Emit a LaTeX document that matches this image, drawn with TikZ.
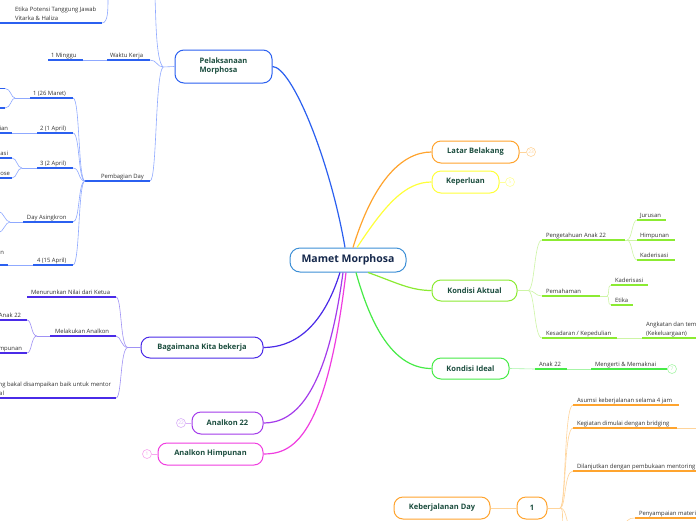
\documentclass[tikz,border=0pt]{standalone}
\usepackage{fontspec}
\setmainfont{Open Sans}
\definecolor{cblue}{HTML}{2B60F0}
\definecolor{cbluel}{HTML}{8FA9FF}
\definecolor{cind}{HTML}{4A2BE8}
\definecolor{cindl}{HTML}{A092F5}
\definecolor{cpur}{HTML}{A43BEB}
\definecolor{cpurl}{HTML}{D9B0F7}
\definecolor{cmag}{HTML}{F03CE0}
\definecolor{cmagl}{HTML}{F7A6EE}
\definecolor{corg}{HTML}{FFA42E}
\definecolor{corgl}{HTML}{FFD49A}
\definecolor{cyel}{HTML}{FFFF3A}
\definecolor{cyell}{HTML}{FFFF99}
\definecolor{cgrn}{HTML}{8BEB32}
\definecolor{cgrnl}{HTML}{CDF5A5}
\definecolor{cgrn2}{HTML}{46EB46}
\definecolor{cgrn2l}{HTML}{A6F5A6}
\definecolor{ccen}{HTML}{3D8FD6}
\definecolor{ttext}{HTML}{1B4D3E}
\definecolor{ctext}{HTML}{15284B}
\definecolor{ltext}{HTML}{333333}
\tikzset{
  topic/.style={draw=#1, rounded corners=9pt, line width=1pt, minimum height=22pt, inner sep=2pt,
    font=\bfseries\fontsize{7.5}{9}\selectfont, text=ttext, fill=white},
  lbl/.style={font=\fontsize{5.9}{7}\selectfont, text=ltext, anchor=south west, inner sep=0.8pt,
    text height=4.4pt, text depth=1.4pt},
  lble/.style={lbl, anchor=south east},
  ul/.style={line width=1.6pt, draw=#1},
  thin/.style={line width=0.6pt, draw=#1},
  mainline/.style={line width=1.2pt, draw=#1},
  badge/.style={circle, draw=#1, line width=0.6pt, inner sep=0pt, minimum size=9pt,
    font=\fontsize{4.8}{5}\selectfont, text=#1, fill=white},
}
\begin{document}
\begin{tikzpicture}[x=1pt,y=-1pt]
\useasboundingbox (0,0) rectangle (696,520);
\clip (0,0) rectangle (696,520);
\fill[white] (0,0) rectangle (696,520);

% ---------- main nodes ----------
\node[topic=ccen, text=ctext, minimum width=116pt, minimum height=24pt, rounded corners=10pt,
  font=\bfseries\fontsize{10.5}{12}\selectfont] (cen) at (348,260) {Mamet Morphosa};
\node[topic=cblue, minimum width=97pt, minimum height=33pt, align=left] (pel) at (223.5,66.5) {Pelaksanaan\\Morphosa};
\node[topic=cind, minimum width=122pt, minimum height=21pt] (bag) at (202,347.5) {Bagaimana Kita bekerja};
\node[topic=cpur, minimum width=71pt] (an22) at (227.5,423) {Analkon 22};
\node[topic=cmag, minimum width=105pt] (anh) at (210.5,454) {Analkon Himpunan};
\node[topic=corg, minimum width=87pt] (lat) at (475.5,152) {Latar Belakang};
\node[topic=cyel, minimum width=67pt] (kep) at (465.5,182) {Keperluan};
\node[topic=cgrn, minimum width=85pt, minimum height=21pt] (ka) at (474.5,290.5) {Kondisi Aktual};
\node[topic=cgrn2, minimum width=77pt, minimum height=21pt] (ki) at (470.5,368.5) {Kondisi Ideal};
\node[topic=corg, minimum width=96pt] (keb) at (442,508) {Keberjalanan Day};
\node[topic=corg, minimum width=30pt] (one) at (532,508) {1};

% ---------- connectors from center ----------
\draw[mainline=cblue] ([xshift=-3pt]cen.north) .. controls (330,160) and (292,67) .. (pel.east);
\draw[mainline=corg] ([xshift=5pt]cen.north) .. controls (372,185) and (400,152) .. (lat.west);
\draw[mainline=cyel] ([xshift=9pt]cen.north) .. controls (385,205) and (405,182) .. (kep.west);
\draw[mainline=cgrn] ([xshift=20pt]cen.south) .. controls (395,282) and (410,290.5) .. (ka.west);
\draw[mainline=cgrn2] ([xshift=8pt]cen.south) .. controls (372,330) and (395,368.5) .. (ki.west);
\draw[mainline=cind] ([xshift=-8pt]cen.south) .. controls (322,330) and (292,347.5) .. (bag.east);
\draw[mainline=cpur] ([xshift=-5pt]cen.south) .. controls (326,400) and (292,423) .. (an22.east);
\draw[mainline=cmag] ([xshift=-2pt]cen.south) .. controls (326,440) and (292,454) .. (anh.east);

% ---------- badges ----------
\node[badge=corgl] (blat) at (531,152) {23};
\draw[thin=corgl] (lat.east) -- (blat);
\node[badge=cyell] (bkep) at (510,182) {5};
\draw[thin=cyell] (kep.east) -- (bkep);
\node[badge=cpurl] (ban22) at (181,423) {22};
\draw[thin=cpurl] (an22.west) -- (ban22);
\node[badge=cmagl] (banh) at (147,454) {1};
\draw[thin=cmagl] (anh.west) -- (banh);

% ---------- Pelaksanaan subtree ----------
\coordinate (pb) at (163,67);
\draw[thin=cbluel] (pel.west) -- (pb);
\draw[thin=cbluel] (pb) .. controls (156,60) and (156,20) .. (155,-2);
\draw[thin=cbluel] (pb) .. controls (157,67) and (157,60) .. (150,60);
\draw[thin=cbluel] (pb) .. controls (155,75) and (157,181) .. (150,181);
% Etika
\draw[thin=cbluel] (102,23) .. controls (108,23) and (108,10) .. (108,-2);
\draw[ul=cblue] (0,23) -- (102,23);
\node[lbl] (etk1) at (14,14) {Etika Potensi Tanggung Jawab};
\node[lbl] (etk2) at (14,23) {Vitarka \& Haliza};
% Waktu kerja
\draw[ul=cblue] (107,60) -- (150,60);
\draw[thin=cbluel] (83,60) -- (107,60);
\draw[ul=cblue] (48,60) -- (83,60);
\node[lbl] (wk) at (109,60) {Waktu Kerja};
\node[lbl] (mg) at (50,60) {1 Minggu};
% Pembagian Day
\coordinate (pd) at (85,181);
\draw[ul=cblue] (85,181) -- (150,181);
\node[lbl] (pdl) at (100,181) {Pembagian Day};
\foreach \yy in {98,133,168,222,265}{
  \draw[thin=cbluel] (pd) .. controls (78,181) and (80,\yy) .. (73,\yy);
}
\draw[ul=cblue] (30,98) -- (73,98);
\node[lbl] (d1) at (32,98) {1 (26 Maret)};
\draw[ul=cblue] (37,133) -- (73,133);
\node[lbl] (d2) at (39,133) {2 (1 April)};
\draw[ul=cblue] (37,168) -- (73,168);
\node[lbl] (d3) at (39,168) {3 (2 April)};
\draw[ul=cblue] (23,222) -- (73,222);
\node[lbl] (da) at (26,222) {Day Asingkron};
\draw[ul=cblue] (33,265) -- (73,265);
\node[lbl] (d4) at (36,265) {4 (15 April)};
% grandchildren
\draw[thin=cbluel] (30,98) -- (15,98);
\draw[thin=cbluel] (15,98) .. controls (11,98) and (11,88.5) .. (5,88.5);
\draw[thin=cbluel] (15,98) .. controls (11,98) and (11,108) .. (5,108);
\draw[ul=cblue] (-2,88.5) -- (5,88.5);
\draw[ul=cblue] (-2,108) -- (5,108);
\draw[thin=cbluel] (37,133) -- (12,133);
\draw[ul=cblue] (-2,133) -- (12,133);
\node[lble] (g2) at (9,133) {ian};
\draw[thin=cbluel] (37,168) -- (22,168);
\draw[thin=cbluel] (22,168) .. controls (17,168) and (17,158) .. (12,158);
\draw[thin=cbluel] (22,168) .. controls (17,168) and (17,178) .. (12,178);
\draw[ul=cblue] (-2,158) -- (12,158);
\draw[ul=cblue] (-2,178) -- (12,178);
\node[lble] (g3a) at (9,158) {asi};
\node[lble] (g3b) at (11,178) {ose};
\draw[thin=cbluel] (23,222) -- (10,222);
\draw[thin=cbluel] (10,222) .. controls (5,222) and (4,212) .. (-2,211);
\draw[thin=cbluel] (10,222) .. controls (5,222) and (4,232) .. (-2,233);
\draw[thin=cbluel] (33,265) -- (8,265);
\draw[ul=cblue] (-2,265) -- (8,265);
\node[lble] (g4) at (5,257) {n};

% ---------- Bagaimana subtree ----------
\coordinate (bb) at (128,347.5);
\draw[thin=cindl] (bag.west) -- (bb);
\draw[thin=cindl] (bb) .. controls (120,347.5) and (122,297) .. (116,297);
\draw[thin=cindl] (bb) .. controls (121,347.5) and (121,336) .. (116,336);
\draw[thin=cindl] (bb) .. controls (120,347.5) and (122,398) .. (116,398);
\draw[ul=cind] (27,297) -- (116,297);
\node[lbl] (mn) at (30,297) {Menurunkan Nilai dari Ketua};
\draw[ul=cind] (50,336) -- (116,336);
\node[lbl] (ml) at (54,336) {Melakukan Analkon};
\draw[ul=cind] (-2,398) -- (116,398);
\node[lble] (sb1) at (112,389) {ng bakal disampaikan baik untuk mentor};
\node[lble] (sb2) at (5,398) {al};
\draw[thin=cindl] (50,336) -- (37,336);
\draw[thin=cindl] (37,336) .. controls (31,336) and (32,320) .. (27,320);
\draw[thin=cindl] (37,336) .. controls (31,336) and (32,353) .. (27,353);
\draw[ul=cind] (-2,320) -- (27,320);
\draw[ul=cind] (-2,353) -- (27,353);
\node[lble] (aa) at (22,320) {Anak 22};
\node[lble] (ah) at (23,353) {Himpunan};

% ---------- Kondisi Aktual subtree ----------
\coordinate (kb) at (528,290.5);
\draw[thin=cgrnl] (ka.east) -- (kb);
\draw[thin=cgrnl] (kb) .. controls (535,290.5) and (534,240) .. (542,240);
\draw[thin=cgrnl] (kb) .. controls (535,290.5) and (535,296) .. (542,296);
\draw[thin=cgrnl] (kb) .. controls (535,290.5) and (534,338) .. (542,338);
\draw[ul=cgrn] (542,240) -- (625,240);
\node[lbl] (pa) at (545,240) {Pengetahuan Anak 22};
\draw[thin=cgrnl] (625,240) -- (627,240);
\draw[thin=cgrnl] (627,240) .. controls (632,240) and (632,220) .. (637,220);
\draw[thin=cgrnl] (627,240) -- (637,240);
\draw[thin=cgrnl] (627,240) .. controls (632,240) and (632,260) .. (637,260);
\draw[ul=cgrn] (637,220) -- (666,220);
\draw[ul=cgrn] (637,240) -- (675,240);
\draw[ul=cgrn] (637,260) -- (675,260);
\node[lbl] (ju) at (639,220) {Jurusan};
\node[lbl] (hi) at (639,240) {Himpunan};
\node[lbl] (kd1) at (639,260) {Kaderisasi};
\draw[ul=cgrn] (542,296) -- (600,296);
\node[lbl] (pm) at (545,296) {Pemahaman};
\draw[thin=cgrnl] (600,296) -- (607,296);
\draw[thin=cgrnl] (607,296) .. controls (610,296) and (607,285) .. (611,285);
\draw[thin=cgrnl] (607,296) .. controls (610,296) and (607,305) .. (611,305);
\draw[ul=cgrn] (611,285) -- (648,285);
\draw[ul=cgrn] (611,305) -- (633,305);
\node[lbl] (kd2) at (614,285) {Kaderisasi};
\node[lbl] (et) at (614,305) {Etika};
\draw[ul=cgrn] (542,338) -- (617,338);
\node[lbl] (ks) at (545,338) {Kesadaran / Kepedulian};
\draw[thin=cgrnl] (617,338) -- (642,338);
\draw[ul=cgrn] (642,338) -- (700,338);
\node[lbl] (ak1) at (645,329) {Angkatan dan tem};
\node[lbl] (ak2) at (645,338) {(Kekeluargaan)};

% ---------- Kondisi Ideal subtree ----------
\draw[thin=cgrn2l] (ki.east) -- (535,369);
\draw[ul=cgrn2] (535,369) -- (567,369);
\node[lbl] (a22) at (538,369) {Anak 22};
\draw[thin=cgrn2l] (567,369) -- (591,369);
\draw[ul=cgrn2] (591,369) -- (667,369);
\node[lbl] (mm) at (594,369) {Mengerti \& Memaknai};
\node[badge=cgrn2l] (bki) at (672,369) {7};
\draw[thin=cgrn2l] (667,369) -- (bki);

% ---------- Keberjalanan subtree ----------
\draw[thin=corgl] (keb.east) -- (one.west);
\coordinate (kd) at (560,508);
\draw[thin=corgl] (one.east) -- (kd);
\draw[thin=corgl] (kd) .. controls (566,508) and (564,405) .. (573,405);
\draw[thin=corgl] (kd) .. controls (566,508) and (564,428) .. (573,428);
\draw[thin=corgl] (kd) .. controls (566,508) and (564,471) .. (573,471);
\draw[thin=corgl] (kd) .. controls (566,508) and (566,520) .. (570,530);
\draw[thin=corgl] (kd) .. controls (564,508) and (562,520) .. (562,530);
\draw[ul=corg] (573,405) -- (679,405);
\node[lbl] (as) at (576,405) {Asumsi keberjalanan selama 4 jam};
\draw[ul=corg] (573,428) -- (677,428);
\draw[thin=corgl] (677,428) -- (700,428);
\node[lbl] (kg) at (576,428) {Kegiatan dimulai dengan bridging};
\draw[ul=corg] (573,471) -- (700,471);
\node[lbl] (dl) at (576,471) {Dilanjutkan dengan pembukaan mentoring};
\draw[thin=corgl] (622,532) .. controls (626,520) and (628,518) .. (635,518);
\draw[ul=corg] (635,518) -- (700,518);
\node[lbl] (py) at (638,518) {Penyampaian materi};
\end{tikzpicture}
\end{document}
